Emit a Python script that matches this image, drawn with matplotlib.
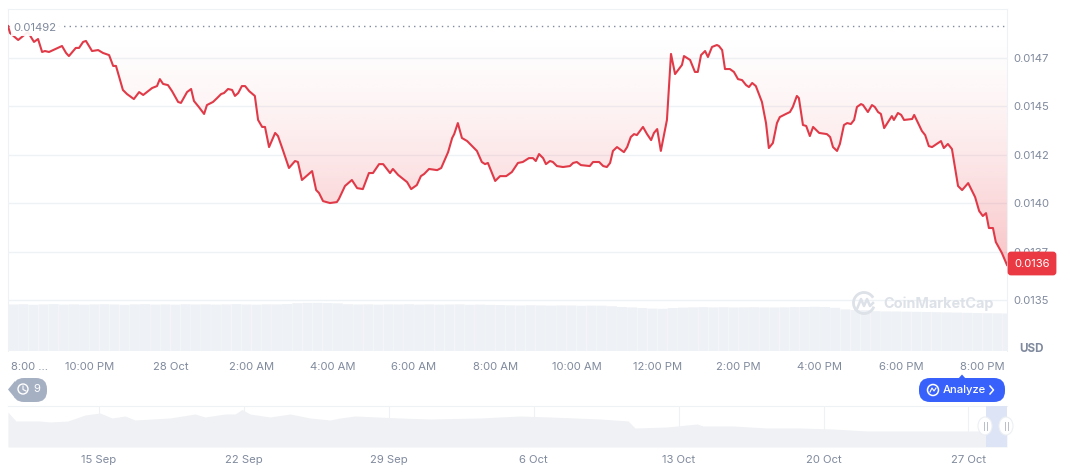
import numpy as np
import matplotlib
matplotlib.use('Agg')
import matplotlib.pyplot as plt
from matplotlib.patches import FancyBboxPatch, Polygon, Circle, Arc, Ellipse, Rectangle

plt.rcParams['font.family'] = ['Inter', 'DejaVu Sans']

# hours since 8:00 PM on 27 Oct
hours = [0, .05, .25, .49, .64, .74, .84, .91, 1.01, 1.33, 1.43, 1.50, 1.67, 1.75, 1.85, 1.92, 2.07, 2.22, 2.34, 2.49,
         2.59, 2.66, 2.83, 2.93, 3.10, 3.23, 3.33, 3.55, 3.67, 3.74, 3.82, 3.94, 4.04, 4.19, 4.26, 4.41, 4.51, 4.58, 4.70, 4.83,
         4.90, 5.05, 5.15, 5.25, 5.32, 5.42, 5.52, 5.59, 5.67, 5.76, 5.84, 5.94, 6.08, 6.16, 6.26, 6.33, 6.43, 6.58, 6.65, 6.77,
         6.92, 7.07, 7.14, 7.24, 7.49, 7.59, 7.66, 7.76, 7.93, 8.10, 8.15, 8.30, 8.47, 8.60, 8.74, 8.89, 8.99, 9.14, 9.24, 9.41,
         9.48, 9.61, 9.83, 9.93, 10.07, 10.17, 10.25, 10.37, 10.57, 10.67, 10.84, 10.94, 10.99, 11.08, 11.18, 11.31, 11.55, 11.67, 11.75, 11.82,
         12.00, 12.12, 12.27, 12.41, 12.56, 12.68, 12.83, 12.93, 13.00, 13.08, 13.18, 13.25, 13.35, 13.42, 13.52, 13.67, 13.84, 13.92, 14.01, 14.11,
         14.33, 14.41, 14.56, 14.66, 14.75, 14.83, 14.90, 15.00, 15.17, 15.25, 15.34, 15.42, 15.49, 15.64, 15.74, 15.84, 15.91, 15.99, 16.08, 16.23,
         16.33, 16.43, 16.60, 16.65, 16.80, 16.92, 16.99, 17.07, 17.17, 17.24, 17.34, 17.46, 17.51, 17.59, 17.66, 17.78, 17.88, 17.98, 18.08, 18.18,
         18.25, 18.33, 18.42, 18.57, 18.67, 18.74, 18.84, 18.94, 19.01, 19.16, 19.26, 19.33, 19.43, 19.48, 19.58, 19.66, 19.75, 19.83, 19.98, 20.17,
         20.25, 20.32, 20.42, 20.49, 20.59, 20.67, 20.76, 20.84, 20.91, 21.01, 21.06, 21.18, 21.28, 21.35, 21.43, 21.50, 21.58, 21.77, 21.82, 21.92,
         22.00, 22.07, 22.27, 22.32, 22.51, 22.59, 22.68, 22.76, 22.98, 23.05, 23.15, 23.25, 23.40, 23.50, 23.65, 23.82, 23.92, 24.01, 24.09, 24.16,
         24.26, 24.33, 24.48, 24.606]

# price in millionths of a USD
price = [14915, 14879, 14843, 14884, 14833, 14848, 14781, 14786, 14781, 14812, 14776, 14760, 14802, 14802, 14833, 14838, 14786, 14791, 14776, 14765,
         14709, 14709, 14585, 14564, 14538, 14574, 14559, 14595, 14605, 14641, 14616, 14610, 14579, 14523, 14518, 14574, 14590, 14528, 14497, 14461,
         14507, 14523, 14543, 14564, 14569, 14590, 14585, 14554, 14569, 14605, 14605, 14579, 14554, 14430, 14394, 14394, 14290, 14363, 14347, 14275,
         14182, 14218, 14213, 14120, 14166, 14068, 14053, 14011, 14001, 14006, 14022, 14089, 14120, 14078, 14073, 14156, 14156, 14202, 14202, 14156,
         14177, 14146, 14109, 14073, 14094, 14140, 14151, 14177, 14171, 14182, 14264, 14337, 14357, 14414, 14337, 14321, 14270, 14213, 14202, 14208,
         14115, 14140, 14140, 14161, 14208, 14213, 14233, 14233, 14218, 14254, 14233, 14202, 14218, 14213, 14192, 14187, 14192, 14208, 14213, 14197,
         14192, 14213, 14213, 14192, 14187, 14208, 14270, 14290, 14264, 14290, 14342, 14357, 14352, 14394, 14357, 14326, 14363, 14383, 14270, 14430,
         14771, 14667, 14714, 14760, 14740, 14678, 14678, 14765, 14786, 14755, 14807, 14817, 14812, 14791, 14693, 14693, 14678, 14641, 14636, 14610,
         14600, 14621, 14605, 14523, 14414, 14285, 14311, 14414, 14445, 14461, 14471, 14497, 14554, 14543, 14404, 14399, 14347, 14394, 14363, 14357,
         14342, 14290, 14270, 14306, 14404, 14414, 14409, 14430, 14497, 14512, 14507, 14471, 14507, 14497, 14471, 14461, 14388, 14450, 14430, 14466,
         14456, 14430, 14435, 14456, 14373, 14352, 14295, 14290, 14321, 14285, 14306, 14280, 14089, 14068, 14104, 14032, 13960, 13934, 13949, 13872,
         13872, 13800, 13743, 13681]

# volume every 15 minutes, USD millions
volume = [46.5, 46.8, 46.2, 46.6, 46.9, 46.4, 46.7, 46.3, 46.6, 46.8, 46.5, 46.2, 46.7, 46.9, 46.4, 46.6, 46.3, 46.8, 46.5, 46.7,
          46.4, 46.6, 46.9, 46.5, 46.3, 46.7, 46.6, 47.0, 47.8, 48.1, 48.2, 47.9, 47.7, 46.8, 46.5, 46.7, 46.3, 46.6, 46.5, 46.8,
          46.4, 46.6, 46.3, 46.5, 46.7, 46.2, 46.4, 46.1, 46.0, 45.7, 45.5, 45.8, 45.6, 45.4, 45.6, 45.5, 45.2, 45.4, 45.3, 44.8,
          44.0, 43.6, 43.0, 42.4, 42.2, 43.0, 43.4, 43.7, 43.9, 43.6, 43.8, 43.5, 43.7, 43.8, 43.6, 43.5, 43.7, 43.9, 44.0, 44.2,
          44.0, 43.2, 41.6, 41.0, 40.8, 39.8, 39.6, 39.5, 39.3, 39.2, 39.0, 38.8, 38.6, 38.4, 38.2, 38.0, 37.8, 37.7, 37.5]

# overview strip, days since 15 Sep
nav_days = [-4.40, -4.01, -2.85, -2.37, -1.50, -.68, .05, .63, 1.26, 1.74, 3.43, 4.64, 5.12, 6.09, 6.57, 6.91, 7.29, 8.26, 9.23, 10.19,
            11.16, 11.64, 12.37, 14.54, 15.99, 18.41, 20.34, 21.79, 24.2, 25.56, 25.89, 27.44, 28.89, 29.18, 30.63, 32.27, 33.86, 35.46, 37.1, 42.41, 43.86]
nav_values = [35, 26, 26, 25, 26, 32, 34, 29, 31, 27, 29, 33, 30, 33, 33, 37.5, 33, 30, 33, 29,
              27, 29, 31, 29, 28, 29, 31, 30, 28, 26, 19, 20, 23, 21, 21, 19, 19, 18, 16, 16, 16]

y_ticks = [14750, 14500, 14250, 14000, 13750, 13500]
y_labels = ['0.0147', '0.0145', '0.0142', '0.0140', '0.0137', '0.0135']
x_ticks = [2, 4, 6, 8, 10, 12, 14, 16, 18, 20, 22, 24]
x_labels = ['10:00 PM', '28 Oct', '2:00 AM', '4:00 AM', '6:00 AM', '8:00 AM', '10:00 AM', '12:00 PM', '2:00 PM', '4:00 PM', '6:00 PM', '8:00 PM']
nav_ticks = [0, 7, 14, 21, 28, 35, 42]
nav_labels = ['15 Sep', '22 Sep', '29 Sep', '6 Oct', '13 Oct', '20 Oct', '27 Oct']

GREY = '#808a9d'
GRID = '#eff2f5'
RED = '#e03a48'
W, H = 1072, 470

fig = plt.figure(figsize=(W/100, H/100), dpi=100)

def px_axes(x0, y0, x1, y1):
    return fig.add_axes([x0/W, 1-y1/H, (x1-x0)/W, (y1-y0)/H])

# volume behind the price
ax_vol = px_axes(8, 9, 1007, 351)
bars = ax_vol.bar(np.arange(len(volume))*.25+.125, volume, width=.245, color='#eef1f5', linewidth=0)
for b in bars:
    b.set_snap(False)
ax_vol.set_xlim(0, 24.606)
ax_vol.set_ylim(0, 342)
ax_vol.axis('off')

# price
ax = px_axes(8, 9, 1007, 351)
ax.patch.set_alpha(0)
ax.set_xlim(0, 24.606)
ax.set_ylim(13237, 15003)
ax.grid(axis='y', color=GRID, linewidth=1)
ax.set_axisbelow(True)
ax.yaxis.tick_right()
ax.set_yticks(y_ticks, y_labels)
ax.set_xticks(x_ticks, x_labels)
ax.tick_params(length=0, labelcolor=GREY, labelsize=8.1)
ax.tick_params(axis='y', pad=4.5)
ax.tick_params(axis='x', pad=8.2)
for s in ['top', 'left', 'right']:
    ax.spines[s].set_color(GRID)
ax.spines['bottom'].set_visible(False)

# gradient between the line and the reference price
grad = np.zeros((256, 2, 4))
grad[..., :3] = np.array([234, 57, 67])/255
grad[..., 3] = .3*np.linspace(0, 1, 256)[:, None]**1.5
img = ax.imshow(grad, extent=[0, 24.606, 13681, 14915], origin='upper', aspect='auto', zorder=1)
outline = np.column_stack([hours + [24.606, 0], price + [14915, 14915]])
poly = Polygon(outline, closed=True, transform=ax.transData, fc='none', ec='none')
ax.add_patch(poly)
img.set_clip_path(poly)
ax.set_xlim(0, 24.606)
ax.set_ylim(13237, 15003)

ax.plot(hours, price, color=RED, linewidth=1.5, zorder=3, solid_joinstyle='round')
ax.axhline(14915, color=GREY, linewidth=1, linestyle=(0, (1, 3)), zorder=2)
# the value label sits on a pale halo that hides the line under it
ax.add_patch(Rectangle((.08, 14864), 1.2, 87, fc='white', ec='none', alpha=.93, zorder=4))
ax.text(.14, 14915-8, '0.01492', color=GREY, fontsize=8.2, va='center', zorder=5)

# overview strip
ax_nav = px_axes(8, 406, 1007, 447)
ax_nav.fill_between(nav_days, nav_values, color='#eff1f4', linewidth=0)
ax_nav.set_xlim(-4.396, 43.86)
ax_nav.set_ylim(0, 41)
ax_nav.set_yticks([])
ax_nav.set_xticks(nav_ticks, nav_labels)
ax_nav.tick_params(axis='x', length=0, labelcolor=GREY, labelsize=8.1, pad=5.8)
ax_nav.grid(axis='x', color=GRID, linewidth=.8)
ax_nav.set_axisbelow(True)
for s in ['left', 'right', 'bottom']:
    ax_nav.spines[s].set_visible(False)
ax_nav.spines['top'].set_color(GRID)

# page furniture, in pixels
ui = fig.add_axes([0, 0, 1, 1], zorder=10)
ui.set_xlim(0, W)
ui.set_ylim(H, 0)
ui.axis('off')

ui.text(11, 367, '8:00 ...', color=GREY, fontsize=8.1, va='center')
ui.text(1019, 349, 'USD', color=GREY, fontsize=8.4, fontweight='bold', va='center')

ui.add_patch(FancyBboxPatch((1009, 253), 46, 21, boxstyle='round,pad=0,rounding_size=2', fc='#ea3943', ec='#ea3943', lw=2))
ui.text(1032, 264, '0.0136', color='white', fontsize=8.1, ha='center', va='center')

# CoinMarketCap mark
ui.text(883, 303.5, 'CoinMarketCap', color='#dde1e8', fontsize=10.4, fontweight='bold', va='center')
ui.add_patch(Arc((864, 303), 21, 21, theta1=20, theta2=330, color='#dde1e8', lw=2))
ui.plot([857, 861, 864, 867, 870, 873], [309, 299, 306, 299, 306, 303], color='#dde1e8', lw=1.8)

# history badge
ui.add_patch(FancyBboxPatch((13, 378), 34, 24, boxstyle='round,pad=0,rounding_size=11', fc='#a6b0c3', ec='none'))
ui.add_patch(Polygon([[8, 389.5], [15, 381], [15, 398]], fc='#a6b0c3', ec='none'))
ui.add_patch(Circle((23, 389), 5, fc='none', ec='white', lw=1))
ui.plot([23, 23, 26], [386, 389.5, 391], color='white', lw=.8)
ui.text(37, 389.5, '9', color='white', fontsize=8.1, ha='center', va='center')

# analyze button
ui.add_patch(FancyBboxPatch((919, 378), 86, 24, boxstyle='round,pad=0,rounding_size=11', fc='#3861fb', ec='none'))
ui.add_patch(Polygon([[958, 379], [962, 374.5], [966, 379]], fc='#3861fb', ec='none'))
ui.add_patch(Circle((933, 390), 5.5, fc='none', ec='white', lw=1.1))
ui.plot([930, 932, 934, 936], [392, 388, 391, 388], color='white', lw=.8)
ui.text(943, 390, 'Analyze', color='white', fontsize=8.1, fontweight='medium', va='center')
ui.plot([990, 993.5, 990], [386, 390, 394], color='white', lw=1.1)

# range selection handles
ui.add_patch(Rectangle((986, 406), 21, 41, fc='#dde4f5', ec='none'))
for hx in [985, 1006]:
    ui.add_patch(Ellipse((hx, 426), 14, 18, fc='white', ec='#eceff3', lw=.8))
    ui.plot([hx-1.5, hx-1.5], [422, 430], color='#b8bfca', lw=.7)
    ui.plot([hx+1.5, hx+1.5], [422, 430], color='#b8bfca', lw=.7)

fig.savefig('out.png', dpi=100)
